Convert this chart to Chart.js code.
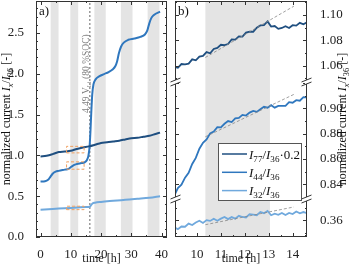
<!DOCTYPE html>
<html>
<head>
<meta charset="utf-8">
<script src="https://cdn.jsdelivr.net/npm/chart.js@4/dist/chart.umd.min.js"></script>
<style>
  html, body { margin: 0; padding: 0; background: #fff; }
  #wrap { position: relative; width: 350px; height: 266px; overflow: hidden; }
  canvas { position: absolute; top: 0; }
  #ca { left: 0; }
  #cb { left: 165px; }
</style>
</head>
<body>
<div id="wrap">
  <canvas id="ca" width="172" height="266"></canvas>
  <canvas id="cb" width="185" height="266"></canvas>
</div>
<script>
var FONT = "'Liberation Serif', 'Times New Roman', serif";

// ---- panel a) whole measurement ----
var darkT = [0, 2, 4, 6, 8, 10, 12, 14, 16, 18, 20, 22, 24, 26, 28, 30, 32, 34, 36, 38, 39.5];
var darkV = [0.986, 0.995, 1.015, 1.04, 1.046, 1.055, 1.078, 1.095, 1.11, 1.13, 1.152, 1.16, 1.17, 1.18, 1.195, 1.21, 1.215, 1.228, 1.24, 1.262, 1.278];

var midT = [0, 1.5, 2.5, 3.3, 4, 5, 6, 8, 9.3, 10.2, 11, 12, 13.5, 14.6, 15.3, 15.8, 16.2, 16.5, 16.8, 17.1, 17.5, 18.2, 19.5, 21, 22.5, 23.8, 24.7, 25.3, 25.9, 26.6, 27.5, 29, 31, 33, 34.5, 35.3, 35.9, 36.6, 37.5, 39.5];
var midV = [0.68, 0.683, 0.70, 0.74, 0.775, 0.80, 0.81, 0.825, 0.835, 0.86, 0.88, 0.893, 0.905, 0.915, 0.94, 0.99, 1.1, 1.3, 1.55, 1.75, 1.87, 1.93, 1.97, 1.995, 2.02, 2.05, 2.09, 2.15, 2.25, 2.33, 2.38, 2.415, 2.43, 2.45, 2.48, 2.53, 2.61, 2.68, 2.72, 2.76];

var lightT = [0, 4, 8, 12, 15, 16.2, 16.6, 17.2, 18, 20, 24, 28, 32, 36, 39.5];
var lightV = [0.335, 0.343, 0.352, 0.36, 0.367, 0.37, 0.385, 0.41, 0.42, 0.43, 0.443, 0.455, 0.467, 0.48, 0.5];

var bandStartA = [3.35, 9.85, 17.8, 26.55, 35.4];
var bandEndA = [5.95, 12.45, 21.55, 30.4, 39.3];
var socTime = 16.3;

var boxT = [8.6, 14.4];
var boxDark = [1.03, 1.11];
var boxMid = [0.83, 0.92];
var boxLight = [0.335, 0.377];

// ---- panel b) zoom ----
var zoomT = [9.05, 9.20, 9.35, 9.50, 9.65, 9.80, 9.95, 10.10, 10.25, 10.40, 10.55, 10.70, 10.85, 11.00, 11.15, 11.30, 11.45, 11.60, 11.75, 11.90, 12.05, 12.20, 12.35, 12.50, 12.65, 12.80, 12.95, 13.10, 13.25, 13.40, 13.55, 13.70, 13.85, 14.00, 14.15, 14.30, 14.45, 14.60];
var zoomDark = [1.0590, 1.0583, 1.0613, 1.0611, 1.0616, 1.0650, 1.0642, 1.0671, 1.0677, 1.0707, 1.0698, 1.0732, 1.0741, 1.0765, 1.0762, 1.0771, 1.0808, 1.0806, 1.0831, 1.0829, 1.0861, 1.0868, 1.0868, 1.0900, 1.0918, 1.0920, 1.0950, 1.0909, 1.0913, 1.0891, 1.0898, 1.0912, 1.0898, 1.0920, 1.0916, 1.0938, 1.0927, 1.0943];
var zoomMid = [0.8309, 0.8370, 0.8396, 0.8452, 0.8490, 0.8560, 0.8608, 0.8681, 0.8727, 0.8754, 0.8802, 0.8817, 0.8851, 0.8850, 0.8878, 0.8899, 0.8891, 0.8920, 0.8924, 0.8948, 0.8943, 0.8966, 0.8980, 0.8972, 0.8993, 0.9012, 0.9005, 0.9025, 0.9005, 0.9019, 0.9019, 0.9019, 0.9049, 0.9044, 0.9064, 0.9060, 0.9088, 0.9086];
var zoomLight = [0.3543, 0.3530, 0.3551, 0.3549, 0.3574, 0.3563, 0.3583, 0.3596, 0.3579, 0.3601, 0.3595, 0.3612, 0.3596, 0.3613, 0.3626, 0.3609, 0.3625, 0.3613, 0.3635, 0.3626, 0.3622, 0.3648, 0.3645, 0.3640, 0.3666, 0.3656, 0.3673, 0.3640, 0.3652, 0.3643, 0.3658, 0.3642, 0.3658, 0.3649, 0.3669, 0.3655, 0.3665, 0.3656];

var bandStartB = [10.35];
var bandEndB = [13.05];

var fitT = [10.35, 14.05];
var fitDark = [1.0665, 1.1070];
var fitMid = [0.8775, 0.9110];
var fitLight = [0.3565, 0.3705];

var colDark = '#1f4f80';
var colMid = '#2f77be';
var colLight = '#70a9dd';

// rich text parts: [text, style] with n = normal, i = italic, s = subscript
var yTitle = [['normalized current ', 'n'], ['I', 'i'], ['x', 'si'], ['/', 'n'], ['I', 'i'], ['36', 's'], [' [-]', 'n']];
var socLabel = [['4.49 V', 'n'], ['Li', 's'], [' (80 %SOC)', 'n']];
var legendLabels = [
    [['I', 'i'], ['77', 's'], ['/', 'n'], ['I', 'i'], ['36', 's'], ['\u00b70.2', 'n']],
    [['I', 'i'], ['44', 's'], ['/', 'n'], ['I', 'i'], ['36', 's']],
    [['I', 'i'], ['32', 's'], ['/', 'n'], ['I', 'i'], ['36', 's']]
];
var legendColors = [colDark, colMid, colLight];

function pts(xs, ys) {
    return xs.map(function (x, i) { return {x: x, y: ys[i]}; });
}

function rect(xs, ys) {
    return [{x: xs[0], y: ys[0]}, {x: xs[1], y: ys[0]}, {x: xs[1], y: ys[1]}, {x: xs[0], y: ys[1]}, {x: xs[0], y: ys[0]}];
}

function fontFor(p, size) {
    var sub = p[1].indexOf('s') >= 0;
    var s = sub ? size * 0.7 : size;
    return (p[1].indexOf('i') >= 0 ? 'italic ' : '') + s + 'px ' + FONT;
}

function drawRich(ctx, parts, x, y, size, align) {
    var w = 0;
    parts.forEach(function (p) {
        ctx.font = fontFor(p, size);
        w += ctx.measureText(p[0]).width;
    });
    var cx = align === 'center' ? x - w / 2 : x;
    ctx.textBaseline = 'alphabetic';
    ctx.textAlign = 'left';
    parts.forEach(function (p) {
        ctx.font = fontFor(p, size);
        var dy = p[1].indexOf('s') >= 0 ? size * 0.25 : 0;
        ctx.fillText(p[0], cx, y + dy);
        cx += ctx.measureText(p[0]).width;
    });
}

function drawTicks(ctx, scale, step, major, a, horiz) {
    var k0 = Math.ceil(scale.min / step - 1e-9);
    var k1 = Math.floor(scale.max / step + 1e-9);
    for (var k = k0; k <= k1; k++) {
        var v = k * step;
        var isMajor = Math.abs(v / major - Math.round(v / major)) < 1e-6;
        var len = isMajor ? 4 : 2;
        var p = Math.round(scale.getPixelForValue(v)) + 0.5;
        ctx.beginPath();
        if (horiz) {
            ctx.moveTo(p, a.bottom); ctx.lineTo(p, a.bottom - len);
            ctx.moveTo(p, a.top); ctx.lineTo(p, a.top + len);
        } else {
            ctx.moveTo(a.left, p); ctx.lineTo(a.left + len, p);
            ctx.moveTo(a.right, p); ctx.lineTo(a.right - len, p);
        }
        ctx.stroke();
    }
}

var framePlugin = {
    id: 'frame',
    beforeDatasetsDraw: function (chart, args, o) {
        var ctx = chart.ctx, a = chart.chartArea, xs = chart.scales.x;
        ctx.save();
        ctx.fillStyle = '#e4e4e4';
        o.bandStart.forEach(function (s, i) {
            var x0 = Math.max(xs.getPixelForValue(s), a.left);
            var x1 = Math.min(xs.getPixelForValue(o.bandEnd[i]), a.right);
            if (x1 > x0) ctx.fillRect(x0, a.top, x1 - x0, a.bottom - a.top);
        });
        ctx.restore();
    },
    afterDraw: function (chart, args, o) {
        var ctx = chart.ctx, a = chart.chartArea;
        ctx.save();
        ctx.strokeStyle = '#333';
        ctx.lineWidth = 1;
        drawTicks(ctx, chart.scales.x, o.xMinor, o.xMajor, a, true);
        o.yScales.forEach(function (id) {
            drawTicks(ctx, chart.scales[id], o.yMinor, o.yMajor, a, false);
        });
        ctx.strokeRect(Math.round(a.left) + 0.5, Math.round(a.top) + 0.5, Math.round(a.width) - 1, Math.round(a.height) - 1);

        // axis breaks
        (o.breaks || []).forEach(function (id) {
            var yb = Math.round(chart.scales[id].bottom);
            [Math.round(a.left) + 0.5, Math.round(a.right) - 0.5].forEach(function (xb) {
                ctx.fillStyle = '#fff';
                ctx.fillRect(xb - 1.5, yb - 2, 3, 4);
                ctx.beginPath();
                ctx.moveTo(xb - 5, yb); ctx.lineTo(xb + 5, yb - 4);
                ctx.moveTo(xb - 5, yb + 4); ctx.lineTo(xb + 5, yb);
                ctx.stroke();
            });
        });

        // panel tag
        ctx.fillStyle = '#111';
        ctx.font = '13px ' + FONT;
        ctx.textAlign = 'left';
        ctx.textBaseline = 'alphabetic';
        ctx.fillText(o.tag, a.left + 3, a.top + 14);

        // y title
        ctx.save();
        ctx.translate(o.yTitleX, (a.top + a.bottom) / 2);
        ctx.rotate(-Math.PI / 2);
        ctx.fillStyle = '#111';
        drawRich(ctx, yTitle, 0, 12 * 0.3, 12, 'center');
        ctx.restore();

        if (o.soc) {
            var xl = chart.scales.x.getPixelForValue(socTime);
            ctx.save();
            ctx.translate(xl - 4, chart.scales.y.getPixelForValue(2.0));
            ctx.rotate(-Math.PI / 2);
            ctx.fillStyle = '#808080';
            drawRich(ctx, socLabel, 0, 9.5 * 0.3, 9.5, 'center');
            ctx.restore();
        }

        if (o.legend) {
            var lw = 83, lh = 57;
            var lx = Math.round(a.right) - 6 - lw, ly = Math.round(a.top) + 142;
            ctx.fillStyle = '#fff';
            ctx.fillRect(lx, ly, lw, lh);
            ctx.strokeStyle = '#555';
            ctx.strokeRect(lx + 0.5, ly + 0.5, lw, lh);
            legendLabels.forEach(function (parts, i) {
                var yy = ly + 11 + i * 18.3;
                ctx.strokeStyle = legendColors[i];
                ctx.lineWidth = 1.5;
                ctx.beginPath();
                ctx.moveTo(lx + 4, yy); ctx.lineTo(lx + 29, yy);
                ctx.stroke();
                ctx.fillStyle = '#111';
                drawRich(ctx, parts, lx + 31, yy + 4.5, 13, 'left');
            });
        }
        ctx.restore();
    }
};

Chart.defaults.font.family = FONT;
Chart.defaults.font.size = 13;
Chart.defaults.color = '#222';

// force the box sizes and drop the label padding chart.js adds at the ends
function noPad(s) {
    s.paddingTop = 0; s.paddingBottom = 0; s.paddingLeft = 0; s.paddingRight = 0;
}
function fixWidth(w) { return function (s) { s.width = w; noPad(s); }; }
function fixHeight(h) { return function (s) { s.height = h; noPad(s); }; }
function keepInside(pad) {
    return function (s) {
        s.ticks = s.ticks.filter(function (t) { return t.value > s.min + pad && t.value < s.max - pad; });
    };
}

var xTitle = { display: true, text: 'time [h]', font: { size: 12 }, padding: { top: 0, bottom: 0 } };

// Panel a
var ctxA = document.getElementById('ca').getContext('2d');
new Chart(ctxA, {
    type: 'line',
    data: {
        datasets: [
            { label: 'I77/I36·0.2', data: pts(darkT, darkV), borderColor: colDark, borderWidth: 2, pointRadius: 0, cubicInterpolationMode: 'monotone', order: 1 },
            { label: 'I44/I36', data: pts(midT, midV), borderColor: colMid, borderWidth: 2, pointRadius: 0, cubicInterpolationMode: 'monotone', order: 1 },
            { label: 'I32/I36', data: pts(lightT, lightV), borderColor: colLight, borderWidth: 2, pointRadius: 0, cubicInterpolationMode: 'monotone', order: 1 },
            { label: 'soc', data: pts([socTime, socTime], [0, 2.89]), borderColor: '#666', borderWidth: 1, borderDash: [2, 2], pointRadius: 0, order: 2 },
            { label: 'box1', data: rect(boxT, boxDark), borderColor: '#f0a060', borderWidth: 1, borderDash: [3, 2], pointRadius: 0, tension: 0, order: 0 },
            { label: 'box2', data: rect(boxT, boxMid), borderColor: '#f0a060', borderWidth: 1, borderDash: [3, 2], pointRadius: 0, tension: 0, order: 0 },
            { label: 'box3', data: rect(boxT, boxLight), borderColor: '#f0a060', borderWidth: 1, borderDash: [3, 2], pointRadius: 0, tension: 0, order: 0 }
        ]
    },
    options: {
        responsive: false,
        animation: false,
        devicePixelRatio: 1,
        events: [],
        layout: { padding: { top: 1, right: 5, left: 0, bottom: 0 } },
        scales: {
            x: {
                type: 'linear', min: -1.5, max: 41.8,
                grid: { display: false }, border: { display: false },
                ticks: { stepSize: 10, padding: 2, maxRotation: 0, includeBounds: false, autoSkip: false },
                title: xTitle,
                afterFit: fixHeight(29)
            },
            y: {
                min: 0, max: 2.89,
                grid: { display: false }, border: { display: false },
                ticks: { stepSize: 0.5, padding: 4, includeBounds: false, autoSkip: false, callback: function (v) { return v.toFixed(1); } },
                afterFit: fixWidth(36)
            }
        },
        plugins: {
            legend: { display: false },
            tooltip: { enabled: false },
            frame: { bandStart: bandStartA, bandEnd: bandEndA, xMinor: 5, xMajor: 10, yMinor: 0.1, yMajor: 0.5, yScales: ['y'], tag: 'a)', yTitleX: 6, soc: true }
        }
    },
    plugins: [framePlugin]
});

// Panel b
var ctxB = document.getElementById('cb').getContext('2d');
var yCommon = function (min, max, weight) {
    return {
        position: 'right', stack: 'b', stackWeight: weight, min: min, max: max,
        grid: { display: false }, border: { display: false },
        ticks: { stepSize: 0.02, padding: 5, includeBounds: false, autoSkip: false, callback: function (v) { return v.toFixed(2); } },
        afterBuildTicks: keepInside(0.004),
        afterFit: fixWidth(43)
    };
};
new Chart(ctxB, {
    type: 'line',
    data: {
        datasets: [
            { label: 'I77/I36·0.2', data: pts(zoomT, zoomDark), yAxisID: 'yTop', borderColor: colDark, borderWidth: 1.8, pointRadius: 0, order: 1 },
            { label: 'I44/I36', data: pts(zoomT, zoomMid), yAxisID: 'yMid', borderColor: colMid, borderWidth: 1.8, pointRadius: 0, order: 1 },
            { label: 'I32/I36', data: pts(zoomT, zoomLight), yAxisID: 'yBot', borderColor: colLight, borderWidth: 1.8, pointRadius: 0, order: 1 },
            { label: 'fit1', data: pts(fitT, fitDark), yAxisID: 'yTop', borderColor: '#888', borderWidth: 0.8, borderDash: [3, 2], pointRadius: 0, order: 0 },
            { label: 'fit2', data: pts(fitT, fitMid), yAxisID: 'yMid', borderColor: '#888', borderWidth: 0.8, borderDash: [3, 2], pointRadius: 0, order: 0 },
            { label: 'fit3', data: pts(fitT, fitLight), yAxisID: 'yBot', borderColor: '#888', borderWidth: 0.8, borderDash: [3, 2], pointRadius: 0, order: 0 }
        ]
    },
    options: {
        responsive: false,
        animation: false,
        devicePixelRatio: 1,
        events: [],
        layout: { padding: { top: 1, right: 0, left: 10, bottom: 0 } },
        scales: {
            x: {
                type: 'linear', min: 9.08, max: 14.6,
                grid: { display: false }, border: { display: false },
                ticks: { stepSize: 1, padding: 2, maxRotation: 0, includeBounds: false, autoSkip: false },
                title: xTitle,
                afterFit: fixHeight(29)
            },
            yTop: yCommon(1.0471, 1.1111, 81),
            yMid: yCommon(0.8283, 0.9208, 117),
            yBot: yCommon(0.3468, 0.3768, 38)
        },
        plugins: {
            legend: { display: false },
            tooltip: { enabled: false },
            frame: { bandStart: bandStartB, bandEnd: bandEndB, xMinor: 0.5, xMajor: 1, yMinor: 0.01, yMajor: 0.02, yScales: ['yTop', 'yMid', 'yBot'], breaks: ['yTop', 'yMid'], tag: 'b)', yTitleX: 177, legend: true }
        }
    },
    plugins: [framePlugin]
});
</script>
</body>
</html>
